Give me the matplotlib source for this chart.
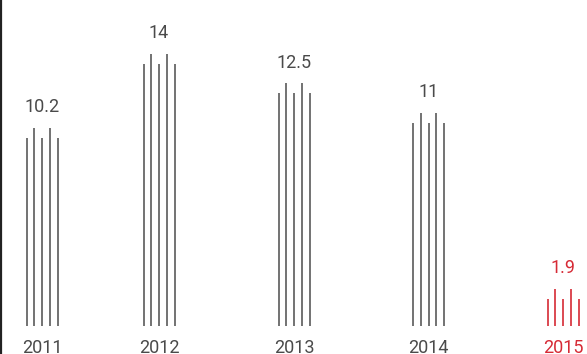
import matplotlib.pyplot as plt

years = ["2011", "2012", "2013", "2014", "2015"]
values = [10.2, 14, 12.5, 11, 1.9]
labels = ["10.2", "14", "12.5", "11", "1.9"]
highlight = [False, False, False, False, True]

GREY = "#5a5a5a"
RED = "#d62a35"
PX = 19.4  # pixels per unit on the y axis


def main():
    fig = plt.figure(figsize=(5.87, 3.54), dpi=100)
    ax = fig.add_axes([0, 0, 1, 1])
    ax.set_xlim(0, 587)
    ax.set_ylim(-28 / PX, (354 - 28) / PX)
    ax.axis("off")

    # group centres along x, one per year
    centers = [42, 159, 294, 428.5, 563]
    offsets = [-15.5, -7.7, 0, 7.7, 15.5]
    short = 10 / PX

    for cx, v, lab, yr, hl in zip(centers, values, labels, years, highlight):
        color = RED if hl else GREY
        txt = RED if hl else "#4a4a4a"
        for i, dx in enumerate(offsets):
            top = v if i in (1, 3) else v - short
            ax.vlines(cx + dx, 0, top, color=color, linewidth=1.2)
        ax.text(cx, v + 21 / PX, lab, ha="center", va="center",
                fontsize=13, color=txt, family="Roboto")
        ax.text(cx, -22 / PX, yr, ha="center", va="center",
                fontsize=13, color=txt, family="Roboto")

    ax.axvline(0.8, color="#222222", linewidth=1.6)
    fig.savefig("out.png", dpi=100)


if __name__ == "__main__":
    main()
